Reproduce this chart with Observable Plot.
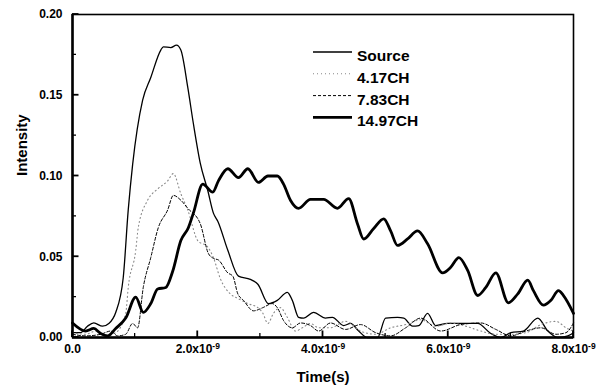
<!DOCTYPE html>
<html><head><meta charset="utf-8">
<script src="https://cdn.jsdelivr.net/npm/d3@7"></script>
<script src="https://cdn.jsdelivr.net/npm/@observablehq/plot@0.6"></script>
<style>body{margin:0;background:#fff}</style>
</head><body><div id="chart"></div>
<script>
// Time in units of 1e-9 s, intensity
const sourceT = [0,0.13,0.24,0.34,0.48,0.58,0.69,0.81,0.89,0.96,1.12,1.25,1.41,1.45,1.57,1.66,1.73,1.84,1.93,2.04,2.16,2.25,2.32,2.48,2.65,2.84,2.96,3.13,3.27,3.43,3.51,3.61,3.69,3.85,4.04,4.15,4.33,4.44,4.57,4.71,4.87,5.0,5.19,5.29,5.43,5.53,5.67,5.8,5.99,6.47,6.68,6.84,7.0,7.2,7.43,7.59,7.75,7.91,8.0];
const sourceI = [0.003,0.003,0.007,0.009,0.007,0.0087,0.0155,0.037,0.079,0.107,0.147,0.161,0.178,0.180,0.1795,0.181,0.178,0.155,0.1325,0.108,0.091,0.077,0.072,0.054,0.038,0.036,0.033,0.021,0.023,0.028,0.023,0.0125,0.012,0.0155,0.012,0.0125,0.0074,0.0087,0.004,0,0,0.012,0.0125,0.012,0.007,0.0074,0.015,0.0074,0.0087,0.0087,0.0025,0,0.003,0.004,0.012,0.004,0,0.001,0.003];

const ch417T = [0,0.21,0.37,0.53,0.69,0.85,0.89,1.01,1.05,1.20,1.36,1.52,1.61,1.73,1.84,2.0,2.16,2.25,2.36,2.52,2.65,2.80,2.96,3.04,3.12,3.21,3.32,3.43,3.56,3.67,3.80,3.93,4.12,4.36,4.60,4.84,5.08,5.32,5.56,5.80,6.04,6.28,6.52,6.76,7.0,7.24,7.48,7.72,7.88,8.0];
const ch417I = [0.003,0.002,0.004,0.001,0.003,0.015,0.031,0.054,0.068,0.085,0.092,0.097,0.1015,0.089,0.079,0.060,0.056,0.0495,0.0365,0.027,0.024,0.021,0.0185,0.015,0.0087,0.015,0.0185,0.0125,0.004,0.006,0.0087,0.006,0.006,0.010,0.004,0.002,0.006,0.008,0.011,0.007,0.009,0.007,0.004,0.002,0.002,0.003,0.008,0.010,0.006,0.004];

const ch783T = [0,0.21,0.45,0.61,0.72,0.85,0.96,1.04,1.13,1.25,1.37,1.52,1.61,1.73,1.84,2.04,2.17,2.25,2.33,2.48,2.56,2.64,2.73,2.89,3.04,3.19,3.27,3.37,3.51,3.64,3.80,3.93,4.12,4.36,4.60,4.84,5.08,5.32,5.56,5.88,6.20,6.52,6.76,7.0,7.24,7.48,7.72,7.88,8.0];
const ch783I = [0.002,0.001,0.002,0.004,0.001,0.002,0.0087,0.006,0.031,0.0495,0.068,0.079,0.088,0.085,0.080,0.0705,0.052,0.049,0.048,0.040,0.038,0.027,0.023,0.0165,0.0185,0.021,0.0185,0.0105,0.006,0.009,0.0074,0.004,0.009,0.005,0.008,0.003,0.001,0.006,0.012,0.004,0.008,0.009,0.005,0.001,0.004,0.006,0.002,0.003,0.009];

const ch1497T = [0,0.21,0.34,0.45,0.56,0.69,0.85,1.01,1.13,1.25,1.36,1.49,1.60,1.73,1.85,1.93,2.08,2.24,2.33,2.48,2.65,2.80,2.97,3.12,3.27,3.37,3.48,3.61,3.80,4.01,4.23,4.41,4.55,4.65,4.81,4.97,5.08,5.19,5.35,5.51,5.67,5.91,6.04,6.17,6.31,6.47,6.60,6.76,6.96,7.11,7.27,7.36,7.52,7.64,7.76,7.84,8.0];
const ch1497I = [0.009,0.004,0.0056,0.0025,0.001,0.0056,0.012,0.025,0.0155,0.021,0.030,0.031,0.041,0.060,0.068,0.077,0.095,0.090,0.097,0.1045,0.099,0.1045,0.096,0.100,0.100,0.095,0.085,0.080,0.0855,0.0855,0.080,0.086,0.0705,0.061,0.0675,0.0735,0.066,0.057,0.061,0.066,0.058,0.040,0.0435,0.0495,0.0415,0.026,0.031,0.040,0.0215,0.027,0.0355,0.029,0.020,0.023,0.029,0.026,0.015];

const seriesNames = ["Source", "4.17CH", "7.83CH", "14.97CH"];

const xMajor = [0, 2, 4, 6, 8];
const xTickLabels = ["0.0", "2.0x10", "4.0x10", "6.0x10", "8.0x10"];
const xExponent = "-9";
const xMinor = [1, 3, 5, 7];
const yMajor = [0, 0.05, 0.10, 0.15, 0.20];
const yTickLabels = ["0.00", "0.05", "0.10", "0.15", "0.20"];
const yMinor = [0.025, 0.075, 0.125, 0.175];

const styles = {
  "Source":  {stroke: "#000", strokeWidth: 1.3, dash: null},
  "4.17CH":  {stroke: "#888", strokeWidth: 1.1, dash: "1,3"},
  "7.83CH":  {stroke: "#000", strokeWidth: 1.0, dash: "3,2"},
  "14.97CH": {stroke: "#000", strokeWidth: 2.8, dash: null}
};

const toRows = (name, T, I) => T.map((t, i) => ({series: name, t, v: I[i]}));
const data = {
  "Source": toRows("Source", sourceT, sourceI),
  "4.17CH": toRows("4.17CH", ch417T, ch417I),
  "7.83CH": toRows("7.83CH", ch783T, ch783I),
  "14.97CH": toRows("14.97CH", ch1497T, ch1497I)
};

const xLab = new Map(xMajor.map((d, i) => [d, xTickLabels[i]]));
const yLab = new Map(yMajor.map((d, i) => [d, yTickLabels[i]]));
const font = "Arial, 'Liberation Sans', Helvetica, sans-serif";

const lineMarks = seriesNames.map(name => Plot.line(data[name], {
  x: "t", y: "v", curve: "monotone-x",
  stroke: styles[name].stroke, strokeWidth: styles[name].strokeWidth,
  strokeDasharray: styles[name].dash, strokeLinejoin: "round"
}));

const plot = Plot.plot({
  width: 604, height: 391,
  marginLeft: 72, marginRight: 31, marginTop: 14, marginBottom: 54,
  style: {fontFamily: font, background: "white", color: "black", overflow: "visible"},
  x: {domain: [0, 8]},
  y: {domain: [0, 0.2]},
  marks: [
    ...lineMarks,
    Plot.frame({strokeWidth: 1.6}),
    Plot.ruleY([0], {strokeWidth: 2.5}),
    Plot.ruleX([0], {strokeWidth: 2.5}),
    Plot.axisX(xMajor, {tickSize: 0, tickPadding: 7, tickFormat: d => xLab.get(d), fontSize: 12, fontWeight: "bold", label: null}),
    Plot.axisY(yMajor, {tickSize: 0, tickPadding: 10, tickFormat: d => yLab.get(d), fontSize: 12, fontWeight: "bold", label: null}),
    Plot.text(["Time(s)"], {frameAnchor: "bottom", dy: 44, fontSize: 15, fontWeight: "bold"}),
    Plot.text(["Intensity"], {frameAnchor: "left", dx: -50, rotate: -90, fontSize: 15, fontWeight: "bold"})
  ]
});

document.getElementById("chart").appendChild(plot);

const svg = d3.select(plot);
const sx = plot.scale("x"), sy = plot.scale("y");
const x0 = sx.apply(0), y0 = sy.apply(0);

// inward tick marks placed through Plot's own scales
const tg = svg.append("g").attr("stroke", "#000");
const addX = (vals, len, sw) => vals.forEach(v => tg.append("line")
  .attr("x1", sx.apply(v)).attr("x2", sx.apply(v)).attr("y1", y0).attr("y2", y0 - len).attr("stroke-width", sw));
const addY = (vals, len, sw) => vals.forEach(v => tg.append("line")
  .attr("y1", sy.apply(v)).attr("y2", sy.apply(v)).attr("x1", x0).attr("x2", x0 + len).attr("stroke-width", sw));
addX(xMinor, 4, 1.3); addX(xMajor, 6.5, 1.8);
addY(yMinor, 4, 1.3); addY(yMajor, 6.5, 1.8);

// superscript exponent on x tick labels
svg.selectAll('g[aria-label="x-axis tick label"] text').each(function() {
  const t = d3.select(this);
  if (t.text().includes("x10")) {
    t.append("tspan").attr("dy", "-0.45em").attr("font-size", 8.5).text(xExponent);
  }
});

// legend
const lg = svg.append("g").attr("font-family", font).attr("text-anchor", "start");
const legX1 = 313, legX2 = 352, legTextX = 357, legY0 = 52, legStep = 21.8;
seriesNames.forEach((name, i) => {
  const y = legY0 + i * legStep;
  const s = styles[name];
  lg.append("line").attr("x1", legX1).attr("x2", legX2).attr("y1", y).attr("y2", y)
    .attr("stroke", s.stroke).attr("stroke-width", s.strokeWidth)
    .attr("stroke-dasharray", s.dash);
  lg.append("text").attr("x", legTextX).attr("y", y + 9).attr("font-size", 15.5)
    .attr("font-weight", "bold").attr("fill", "#000").attr("text-anchor", "start").text(name);
});
</script>
</body></html>
